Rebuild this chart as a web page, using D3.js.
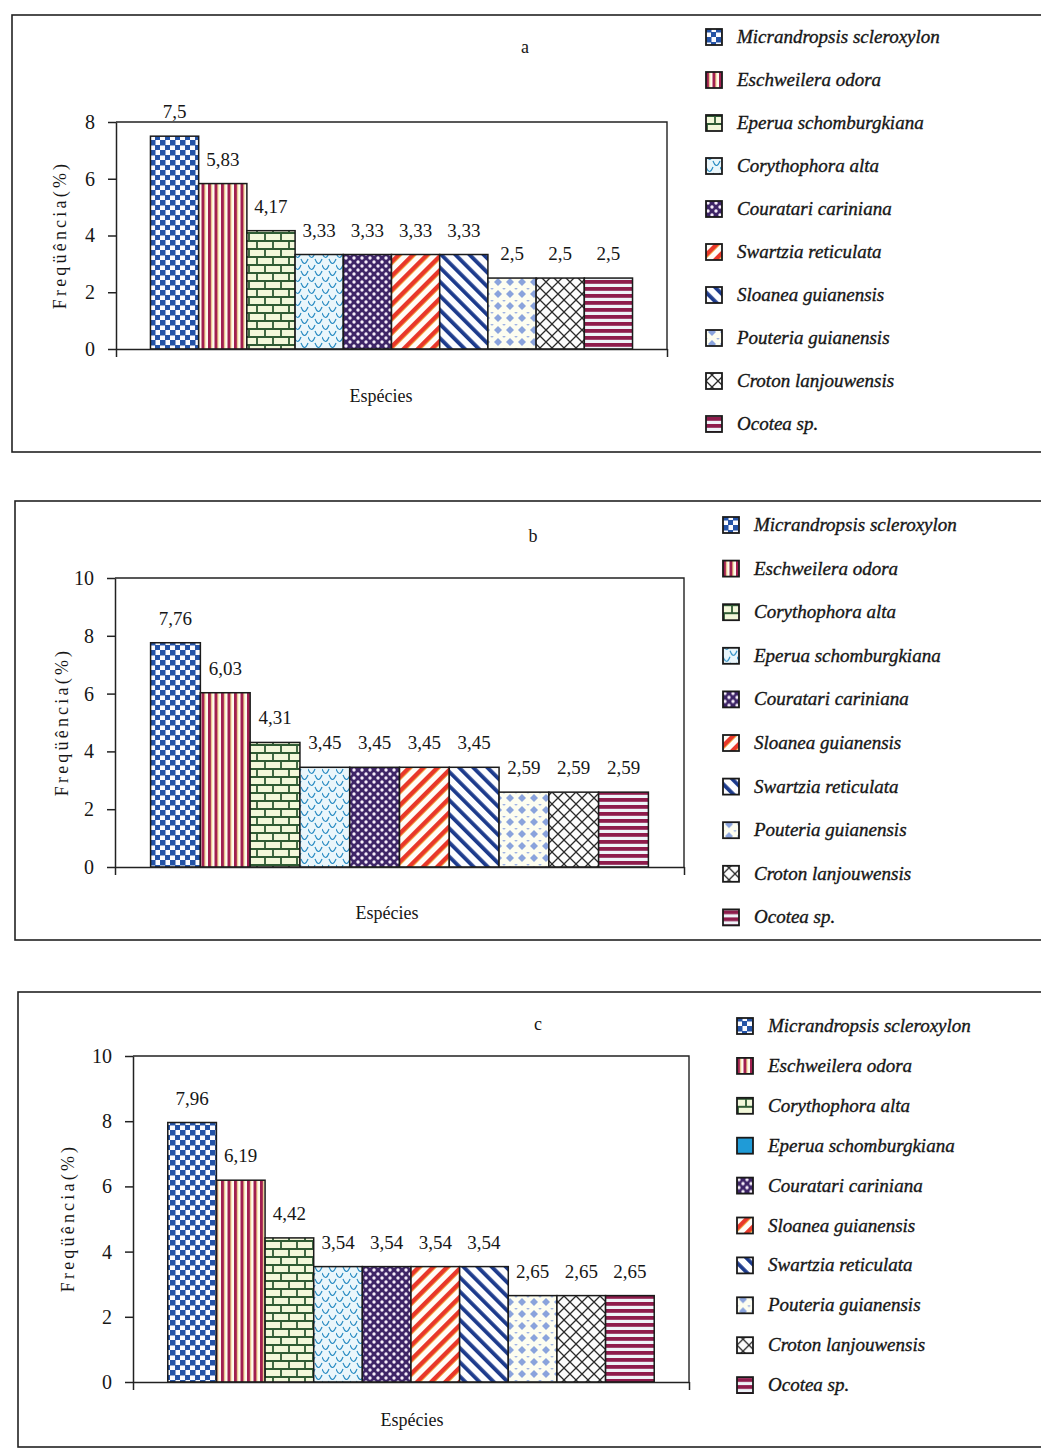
<!DOCTYPE html>
<html>
<head>
<meta charset="utf-8">
<script src="https://cdn.jsdelivr.net/npm/d3@7"></script>
<style>
  body { margin: 0; background: #fff; }
  text { font-family: "Liberation Serif", "Times New Roman", serif; fill: #161616; }
</style>
</head>
<body>
<div id="wrapper"></div>
<script>
// species names, in the order of the bars / legend rows
const speciesA = ["Micrandropsis scleroxylon", "Eschweilera odora", "Eperua schomburgkiana", "Corythophora alta",
  "Couratari cariniana", "Swartzia reticulata", "Sloanea guianensis", "Pouteria guianensis",
  "Croton lanjouwensis", "Ocotea sp."]
const speciesB = ["Micrandropsis scleroxylon", "Eschweilera odora", "Corythophora alta", "Eperua schomburgkiana",
  "Couratari cariniana", "Sloanea guianensis", "Swartzia reticulata", "Pouteria guianensis",
  "Croton lanjouwensis", "Ocotea sp."]
const speciesC = ["Micrandropsis scleroxylon", "Eschweilera odora", "Corythophora alta", "Eperua schomburgkiana",
  "Couratari cariniana", "Sloanea guianensis", "Swartzia reticulata", "Pouteria guianensis",
  "Croton lanjouwensis", "Ocotea sp."]

// frequency (%)
const valuesA = [7.5, 5.83, 4.17, 3.33, 3.33, 3.33, 3.33, 2.5, 2.5, 2.5]
const valuesB = [7.76, 6.03, 4.31, 3.45, 3.45, 3.45, 3.45, 2.59, 2.59, 2.59]
const valuesC = [7.96, 6.19, 4.42, 3.54, 3.54, 3.54, 3.54, 2.65, 2.65, 2.65]

const ticksA = [0, 2, 4, 6, 8]
const ticksB = [0, 2, 4, 6, 8, 10]
const ticksC = [0, 2, 4, 6, 8, 10]

const panelTitles = ["a", "b", "c"]
const xLabel = "Espécies"
const yLabel = "Freqüência(%)"

// layout of the three boxes
const panels = [
  { title: panelTitles[0], species: speciesA, values: valuesA, ticks: ticksA, yMax: 8,
    frame: { x: 12, y: 15, bottom: 452 },
    plot: { left: 116, top: 122, right: 667, bottom: 349 },
    titlePos: [525, 53], xLabelPos: [381, 402], yLabelPos: [60, 235],
    legend: { x: 706, y0: 37, dy: 43 } },
  { title: panelTitles[1], species: speciesB, values: valuesB, ticks: ticksB, yMax: 10,
    frame: { x: 15, y: 501, bottom: 940 },
    plot: { left: 115, top: 578, right: 684, bottom: 867 },
    titlePos: [533, 542], xLabelPos: [387, 919], yLabelPos: [62, 722],
    legend: { x: 723, y0: 525, dy: 43.6 } },
  { title: panelTitles[2], species: speciesC, values: valuesC, ticks: ticksC, yMax: 10,
    frame: { x: 18, y: 992, bottom: 1447 },
    plot: { left: 133, top: 1056, right: 689, bottom: 1382 },
    titlePos: [538, 1030], xLabelPos: [412, 1426], yLabelPos: [68, 1218],
    legend: { x: 737, y0: 1026, dy: 39.9 } },
]

const svg = d3.select("#wrapper")
  .append("svg")
    .attr("width", 1041)
    .attr("height", 1451)

const defs = svg.append("defs")

function addPattern(id, w, h, draw, transform) {
  const p = defs.append("pattern")
    .attr("id", id)
    .attr("patternUnits", "userSpaceOnUse")
    .attr("width", w)
    .attr("height", h)
  if (transform) p.attr("patternTransform", transform)
  draw(p)
}

// 0 checker
addPattern("p0", 10, 10, p => {
  p.append("rect").attr("width", 10).attr("height", 10).attr("fill", "#fbfbff")
  p.append("rect").attr("width", 5.5).attr("height", 5.5).attr("fill", "#2352a6")
  p.append("rect").attr("x", 5).attr("y", 5).attr("width", 5.5).attr("height", 5.5).attr("fill", "#2352a6")
})
// 1 vertical stripes
addPattern("p1", 6.5, 6, p => {
  p.append("rect").attr("width", 6.5).attr("height", 6).attr("fill", "#fffaf0")
  p.append("rect").attr("width", 3.2).attr("height", 6).attr("fill", "#a11f50")
  p.append("rect").attr("x", 3.2).attr("width", 0.8).attr("height", 6).attr("fill", "#f1d466")
})
// 2 bricks
addPattern("p2", 16, 16, p => {
  p.append("rect").attr("width", 16).attr("height", 16).attr("fill", "#f3f8da")
  p.append("path")
    .attr("d", "M0,1 H16 M0,9 H16 M1,1 V9 M9,9 V17")
    .attr("stroke", "#2f5b33").attr("stroke-width", 1.8).attr("fill", "none")
})
// 3 scallops
addPattern("p3", 14, 12, p => {
  p.append("rect").attr("width", 14).attr("height", 12).attr("fill", "#eaf6fb")
  p.append("path")
    .attr("d", "M0,1 Q3.5,10 7,1 M7,7 Q10.5,16 14,7 M-7,7 Q-3.5,16 0,7 M0,13 Q3.5,22 7,13")
    .attr("stroke", "#2a8cc3").attr("stroke-width", 1.2).attr("fill", "none")
})
// 4 purple dots
addPattern("p4", 8, 8, p => {
  p.append("rect").attr("width", 8).attr("height", 8).attr("fill", "#3e2567")
  p.append("circle").attr("cx", 2).attr("cy", 2).attr("r", 1.7).attr("fill", "#f6eefa")
  p.append("circle").attr("cx", 6).attr("cy", 6).attr("r", 1.7).attr("fill", "#f6eefa")
})
// 5 red diagonal "/"
addPattern("p5", 10, 10, p => {
  p.append("rect").attr("width", 10).attr("height", 10).attr("fill", "#fffdf8")
  p.append("rect").attr("width", 4).attr("height", 10).attr("fill", "#e8382a")
  p.append("rect").attr("x", 4).attr("width", 1).attr("height", 10).attr("fill", "#f3a03c")
}, "rotate(45)")
// 6 blue diagonal "\"
addPattern("p6", 10, 10, p => {
  p.append("rect").attr("width", 10).attr("height", 10).attr("fill", "#fdfdff")
  p.append("rect").attr("width", 3.8).attr("height", 10).attr("fill", "#1c3a8c")
}, "rotate(-45)")
// 7 diamonds
addPattern("p7", 12, 12, p => {
  p.append("rect").attr("width", 12).attr("height", 12).attr("fill", "#fdfdf0")
  p.append("path").attr("d", "M6,2 L10,6 L6,10 L2,6 Z").attr("fill", "#8aa3dc")
  p.append("path").attr("d", "M0,0 m-1.5,0 a1.5,1.5 0 1,0 3,0 M12,0 m-1.5,0 a1.5,1.5 0 1,0 3,0 M0,12 m-1.5,0 a1.5,1.5 0 1,0 3,0 M12,12 m-1.5,0 a1.5,1.5 0 1,0 3,0")
    .attr("fill", "#9fb3e2")
})
// 8 crosshatch
addPattern("p8", 12, 12, p => {
  p.append("rect").attr("width", 12).attr("height", 12).attr("fill", "#fcfcfc")
  p.append("path").attr("d", "M0,0 L12,12 M12,0 L0,12")
    .attr("stroke", "#2a2a2a").attr("stroke-width", 1.3)
})
// 9 horizontal stripes
addPattern("p9", 7, 7, p => {
  p.append("rect").attr("width", 7).attr("height", 7).attr("fill", "#eef3f8")
  p.append("rect").attr("width", 7).attr("height", 3.8).attr("fill", "#8e1c4c")
})
// solid icon used in legend c
addPattern("solidBlue", 4, 4, p => {
  p.append("rect").attr("width", 4).attr("height", 4).attr("fill", "#1f9bd7")
})

const legendFills = [
  d3.range(10).map(i => `url(#p${i})`),
  d3.range(10).map(i => `url(#p${i})`),
  d3.range(10).map(i => i === 3 ? "url(#solidBlue)" : `url(#p${i})`),
]

function fmt(v) {
  return String(v).replace(".", ",")
}

function drawPanel(cfg, idx) {
  const g = svg.append("g")
  const pl = cfg.plot

  // outer frame
  g.append("rect")
    .attr("x", cfg.frame.x)
    .attr("y", cfg.frame.y)
    .attr("width", 1060 - cfg.frame.x)
    .attr("height", cfg.frame.bottom - cfg.frame.y)
    .attr("fill", "none")
    .attr("stroke", "#222")
    .attr("stroke-width", 1.6)

  const xScale = d3.scaleBand()
    .domain(d3.range(cfg.values.length))
    .range([pl.left, pl.right])
    .paddingInner(0)
    .paddingOuter(0.715)

  const yScale = d3.scaleLinear()
    .domain([0, cfg.yMax])
    .range([pl.bottom, pl.top])

  // plot area border
  g.append("path")
    .attr("d", `M${pl.left},${pl.top} H${pl.right} V${pl.bottom}`)
    .attr("fill", "none")
    .attr("stroke", "#222")
    .attr("stroke-width", 1.4)

  // bars
  g.selectAll(".bar")
      .data(cfg.values)
    .enter()
      .append("rect")
        .attr("class", "bar")
        .attr("x", (d, i) => xScale(i))
        .attr("y", d => yScale(d))
        .attr("width", xScale.bandwidth())
        .attr("height", d => yScale(0) - yScale(d))
        .attr("fill", (d, i) => `url(#p${i})`)
        .attr("stroke", "#1a1a1a")
        .attr("stroke-width", 1.5)

  // value labels
  g.selectAll(".val")
      .data(cfg.values)
    .enter()
      .append("text")
        .attr("x", (d, i) => xScale(i) + xScale.bandwidth() / 2)
        .attr("y", d => yScale(d) - 18)
        .style("font-size", "19px")
        .style("text-anchor", "middle")
        .text(d => fmt(d))

  // y axis
  const yAxis = d3.axisLeft(yScale)
    .tickValues(cfg.ticks)
    .tickSize(8)
    .tickSizeOuter(0)
    .tickPadding(13)
    .tickFormat(d => d)
  const yg = g.append("g")
    .attr("transform", `translate(${pl.left},0)`)
    .call(yAxis)
  yg.selectAll("path, line").attr("stroke", "#222").attr("stroke-width", 1.5)
  yg.selectAll("text")
    .style("font-family", "'Liberation Serif', serif")
    .style("font-size", "20px")
    .attr("fill", "#161616")

  // x axis: one category, ticks at both ends
  const xAxisScale = d3.scaleLinear().domain([0, 1]).range([pl.left, pl.right])
  const xAxis = d3.axisBottom(xAxisScale)
    .tickValues([0, 1])
    .tickSize(8)
    .tickSizeOuter(0)
    .tickFormat("")
  const xg = g.append("g")
    .attr("transform", `translate(0,${pl.bottom})`)
    .call(xAxis)
  xg.selectAll("path, line").attr("stroke", "#222").attr("stroke-width", 1.5)

  // titles
  g.append("text")
    .attr("x", cfg.titlePos[0])
    .attr("y", cfg.titlePos[1])
    .style("font-size", "18px")
    .style("text-anchor", "middle")
    .text(cfg.title)

  g.append("text")
    .attr("x", cfg.xLabelPos[0])
    .attr("y", cfg.xLabelPos[1])
    .style("font-size", "18px")
    .style("text-anchor", "middle")
    .text(xLabel)

  g.append("text")
    .attr("transform", `translate(${cfg.yLabelPos[0] + 6},${cfg.yLabelPos[1]}) rotate(-90)`)
    .style("font-size", "18px")
    .style("letter-spacing", "3.2px")
    .style("text-anchor", "middle")
    .text(yLabel)

  // legend
  const lg = cfg.legend
  const rows = g.selectAll(".legend")
      .data(cfg.species)
    .enter()
      .append("g")
        .attr("transform", (d, i) => `translate(${lg.x},${lg.y0 + i * lg.dy})`)

  rows.append("rect")
    .attr("x", 0)
    .attr("y", -8)
    .attr("width", 16)
    .attr("height", 16)
    .attr("fill", (d, i) => legendFills[idx][i])
    .attr("stroke", "#1a1a1a")
    .attr("stroke-width", 1.8)

  rows.append("text")
    .attr("x", 31)
    .attr("y", 6)
    .style("font-size", "19px")
    .style("font-style", "italic")
    .style("stroke", "#161616")
    .style("stroke-width", "0.35px")
    .text(d => d)
}

panels.forEach(drawPanel)
</script>
</body>
</html>
